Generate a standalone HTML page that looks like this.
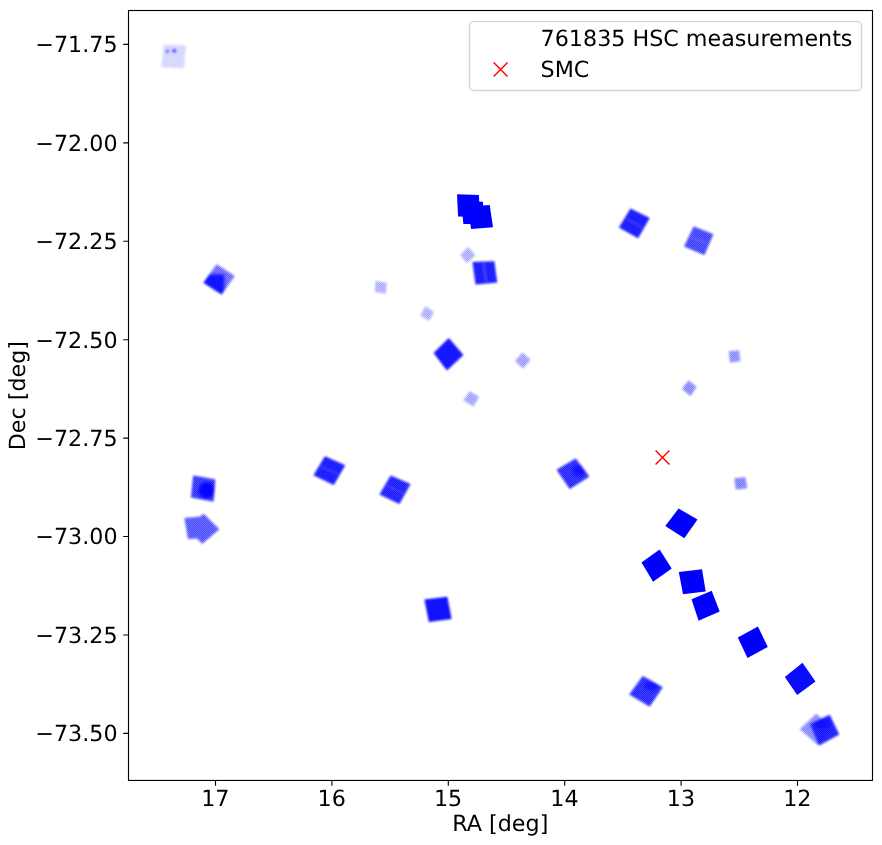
<!DOCTYPE html>
<html lang="en"><head><meta charset="utf-8"><title>HSC measurements</title>
<style>html,body{margin:0;padding:0;background:#fff}body{width:882px;height:845px;overflow:hidden}svg{display:block}text{text-rendering:geometricPrecision;font-family:"DejaVu Sans","Liberation Sans",sans-serif;font-size:22.22px;fill:#000}</style></head><body>
<svg width="882" height="845" viewBox="0 0 882 845">
<defs><filter id="soft" x="-20%" y="-20%" width="140%" height="140%"><feGaussianBlur stdDeviation="0.9"/></filter><filter id="soft2" x="-30%" y="-30%" width="160%" height="160%"><feGaussianBlur stdDeviation="1.2"/></filter><pattern id="tex" width="2" height="2" patternUnits="userSpaceOnUse"><rect width="1" height="1" fill="#fff"/><rect x="1" y="1" width="1" height="1" fill="#fff"/><rect x="1" width="1" height="1" fill="#00f"/><rect y="1" width="1" height="1" fill="#00f"/></pattern></defs>
<rect width="882" height="845" fill="#fff"/>
<defs><clipPath id="c0"><polygon points="216.6,264.2 234.7,275.9 221.6,294.4 203.5,282.7"/></clipPath><clipPath id="c1"><polygon points="193.2,475.6 215.3,479.5 213.5,501.4 191.0,497.6"/></clipPath><clipPath id="c2"><polygon points="575.7,458.6 589.3,476.5 569.7,488.9 556.6,469.7"/></clipPath><clipPath id="c3"><polygon points="642.8,676.0 662.7,687.3 649.7,706.6 629.3,694.4"/></clipPath><clipPath id="c4"><polygon points="810.1,724.1 829.7,714.8 839.2,734.5 819.0,745.4"/></clipPath></defs>
<g fill="#0000ff"><polygon points="457.0,194.2 478.9,194.9 480.0,217.1 458.1,216.4" opacity="1.00"/><polygon points="461.0,201.0 482.9,201.7 484.3,224.1 463.4,223.9" opacity="1.00"/><polygon points="467.8,206.5 489.7,204.9 493.0,227.2 471.1,228.9" opacity="1.00"/><polygon points="678.6,508.4 697.5,519.5 684.3,538.3 665.3,525.9" opacity="1.00"/><polygon points="659.6,549.5 671.7,568.4 653.1,581.7 641.5,562.5" opacity="1.00"/><polygon points="678.8,572.0 702.0,569.3 705.7,591.5 683.0,594.2" opacity="1.00"/><polygon points="691.5,599.2 711.7,590.7 719.7,611.6 698.6,620.7" opacity="1.00"/><polygon points="737.8,637.5 757.9,626.6 767.8,646.9 747.5,657.9" opacity="1.00"/><polygon points="784.8,676.9 802.5,662.7 815.5,681.6 797.2,695.0" opacity="0.96"/></g>
<g fill="#0000ff" filter="url(#soft)">
<polygon points="163.7,44.4 186.0,45.4 183.8,68.6 161.4,67.1" opacity="0.13"/>
<polygon points="216.6,264.2 234.7,275.9 221.6,294.4 203.5,282.7" opacity="0.55"/>
<polygon points="375.6,281.1 386.7,282.8 385.8,293.4 374.9,292.0" opacity="0.26"/>
<polygon points="425.3,306.2 433.8,311.9 429.3,321.1 420.4,315.7" opacity="0.26"/>
<polygon points="448.8,337.9 463.4,354.9 446.9,370.5 433.6,353.1" opacity="0.93"/>
<polygon points="468.2,247.0 475.2,255.3 466.9,263.2 460.3,254.9" opacity="0.27"/>
<polygon points="472.5,261.9 494.3,261.3 497.2,282.4 475.5,284.5" opacity="0.90"/>
<polygon points="522.4,352.4 530.6,359.8 523.1,368.6 515.0,361.0" opacity="0.32"/>
<polygon points="469.8,391.3 479.1,396.7 473.4,406.4 463.4,400.3" opacity="0.30"/>
<polygon points="630.5,208.4 649.7,218.1 638.1,238.2 618.9,227.6" opacity="0.90"/>
<polygon points="693.7,226.6 713.3,234.2 704.4,255.0 684.1,246.5" opacity="0.73"/>
<polygon points="728.9,351.3 739.2,350.6 740.2,361.2 729.9,362.4" opacity="0.40"/>
<polygon points="688.4,380.4 696.6,386.8 690.5,396.0 682.0,388.9" opacity="0.42"/>
<polygon points="734.4,478.3 745.4,477.2 747.2,488.3 735.9,489.4" opacity="0.45"/>
<polygon points="575.7,458.6 589.3,476.5 569.7,488.9 556.6,469.7" opacity="0.84"/>
<polygon points="324.9,456.3 345.2,465.2 333.8,485.1 313.5,475.2" opacity="0.90"/>
<polygon points="390.6,475.4 410.5,484.0 399.4,504.1 379.5,494.6" opacity="0.88"/>
<polygon points="193.2,475.6 215.3,479.5 213.5,501.4 191.0,497.6" opacity="0.80"/>
<g opacity="0.65"><polygon points="184.5,518.0 205.8,516.2 209.4,537.5 188.1,539.1"/><polygon points="203.5,513.8 219.2,529.2 202.3,543.8 187.5,528.6"/></g>
<polygon points="424.4,599.5 447.3,596.7 451.6,619.0 428.9,621.9" opacity="0.95"/>
<polygon points="642.8,676.0 662.7,687.3 649.7,706.6 629.3,694.4" opacity="0.84"/>
<polygon points="816.4,713.7 832.5,728.8 817.9,744.9 799.9,729.3" opacity="0.42"/>
<polygon points="810.1,724.1 829.7,714.8 839.2,734.5 819.0,745.4" opacity="0.88"/>
<g clip-path="url(#c0)"><rect x="198" y="274.2" width="26.4" height="28" opacity="0.85" filter="url(#soft2)"/></g>
<g clip-path="url(#c1)"><ellipse cx="206.6" cy="490.4" rx="8.4" ry="8.4" opacity="0.9" filter="url(#soft2)"/></g>
<g clip-path="url(#c2)"><ellipse cx="579.0" cy="470.4" rx="6.5" ry="6.0" opacity="0.6" filter="url(#soft2)"/></g>
<g clip-path="url(#c3)"><ellipse cx="651.5" cy="685.8" rx="7.0" ry="4.5" opacity="0.6" filter="url(#soft2)"/></g>
<g clip-path="url(#c4)"><ellipse cx="823.0" cy="723.5" rx="9.0" ry="5.5" opacity="0.5" filter="url(#soft2)"/></g>
<circle cx="167.5" cy="51.2" r="1.8" opacity="0.5"/><circle cx="174.3" cy="50.7" r="2.0" opacity="0.65"/>
</g>
<g stroke="#ffffff" stroke-width="1.1" filter="url(#soft)"><line x1="483.5" y1="262.9" x2="486.1" y2="282.2" stroke-opacity="0.35"/><line x1="642.7" y1="227.5" x2="625.9" y2="218.6" stroke-opacity="0.25"/><line x1="338.3" y1="474.6" x2="320.4" y2="466.3" stroke-opacity="0.25"/><line x1="403.8" y1="493.5" x2="386.3" y2="485.6" stroke-opacity="0.22"/><line x1="707.7" y1="244.1" x2="690.1" y2="237.0" stroke-opacity="0.20"/></g>
<mask id="tm" maskUnits="userSpaceOnUse" x="0" y="0" width="882" height="845"><g fill="#fff" filter="url(#soft)"><polygon points="163.7,44.4 186.0,45.4 183.8,68.6 161.4,67.1" opacity="0.44"/><polygon points="216.6,264.2 234.7,275.9 221.6,294.4 203.5,282.7" opacity="1.00"/><polygon points="375.6,281.1 386.7,282.8 385.8,293.4 374.9,292.0" opacity="0.72"/><polygon points="425.3,306.2 433.8,311.9 429.3,321.1 420.4,315.7" opacity="0.72"/><polygon points="448.8,337.9 463.4,354.9 446.9,370.5 433.6,353.1" opacity="0.35"/><polygon points="468.2,247.0 475.2,255.3 466.9,263.2 460.3,254.9" opacity="0.74"/><polygon points="472.5,261.9 494.3,261.3 497.2,282.4 475.5,284.5" opacity="0.50"/><polygon points="522.4,352.4 530.6,359.8 523.1,368.6 515.0,361.0" opacity="0.85"/><polygon points="469.8,391.3 479.1,396.7 473.4,406.4 463.4,400.3" opacity="0.81"/><polygon points="630.5,208.4 649.7,218.1 638.1,238.2 618.9,227.6" opacity="0.50"/><polygon points="693.7,226.6 713.3,234.2 704.4,255.0 684.1,246.5" opacity="1.00"/><polygon points="728.9,351.3 739.2,350.6 740.2,361.2 729.9,362.4" opacity="1.00"/><polygon points="688.4,380.4 696.6,386.8 690.5,396.0 682.0,388.9" opacity="1.00"/><polygon points="734.4,478.3 745.4,477.2 747.2,488.3 735.9,489.4" opacity="1.00"/><polygon points="575.7,458.6 589.3,476.5 569.7,488.9 556.6,469.7" opacity="0.80"/><polygon points="324.9,456.3 345.2,465.2 333.8,485.1 313.5,475.2" opacity="0.50"/><polygon points="390.6,475.4 410.5,484.0 399.4,504.1 379.5,494.6" opacity="0.60"/><polygon points="193.2,475.6 215.3,479.5 213.5,501.4 191.0,497.6" opacity="1.00"/><polygon points="184.5,518.0 205.8,516.2 209.4,537.5 188.1,539.1" opacity="1.00"/><polygon points="203.5,513.8 219.2,529.2 202.3,543.8 187.5,528.6" opacity="1.00"/><polygon points="424.4,599.5 447.3,596.7 451.6,619.0 428.9,621.9" opacity="0.30"/><polygon points="642.8,676.0 662.7,687.3 649.7,706.6 629.3,694.4" opacity="0.80"/><polygon points="816.4,713.7 832.5,728.8 817.9,744.9 799.9,729.3" opacity="1.00"/><polygon points="810.1,724.1 829.7,714.8 839.2,734.5 819.0,745.4" opacity="0.60"/></g><g fill="#000"><g clip-path="url(#c0)"><rect x="198" y="274.2" width="26.4" height="28" opacity="0.85" filter="url(#soft2)"/></g><g clip-path="url(#c1)"><ellipse cx="206.6" cy="490.4" rx="8.4" ry="8.4" opacity="0.9" filter="url(#soft2)"/></g><g clip-path="url(#c2)"><ellipse cx="579.0" cy="470.4" rx="6.5" ry="6.0" opacity="0.6" filter="url(#soft2)"/></g><g clip-path="url(#c3)"><ellipse cx="651.5" cy="685.8" rx="7.0" ry="4.5" opacity="0.6" filter="url(#soft2)"/></g><g clip-path="url(#c4)"><ellipse cx="823.0" cy="723.5" rx="9.0" ry="5.5" opacity="0.5" filter="url(#soft2)"/></g></g></mask>
<rect x="129" y="11" width="743" height="769" fill="url(#tex)" opacity="0.14" mask="url(#tm)"/>
<path d="M655.56 450.56L669.44 464.44M655.56 464.44L669.44 450.56" stroke="#ff0000" stroke-width="1.39" fill="none" stroke-linecap="butt"/>
<rect x="128.50" y="10.50" width="744.00" height="769.95" fill="none" stroke="#000" stroke-width="1.11" stroke-linejoin="miter"/>
<path d="M215.50 780.45v5.3M331.90 780.45v5.3M448.30 780.45v5.3M564.70 780.45v5.3M681.10 780.45v5.3M797.50 780.45v5.3M128.50 44.40h-5.3M128.50 142.83h-5.3M128.50 241.26h-5.3M128.50 339.69h-5.3M128.50 438.12h-5.3M128.50 536.55h-5.3M128.50 634.98h-5.3M128.50 733.41h-5.3" stroke="#000" stroke-width="1.11" fill="none"/>
<text x="215.30" y="806.1" text-anchor="middle">17</text>
<text x="331.70" y="806.1" text-anchor="middle">16</text>
<text x="448.10" y="806.1" text-anchor="middle">15</text>
<text x="564.50" y="806.1" text-anchor="middle">14</text>
<text x="680.90" y="806.1" text-anchor="middle">13</text>
<text x="797.30" y="806.1" text-anchor="middle">12</text>
<text x="117.6" y="52.30" text-anchor="end">−71.75</text>
<text x="117.6" y="150.73" text-anchor="end">−72.00</text>
<text x="117.6" y="249.16" text-anchor="end">−72.25</text>
<text x="117.6" y="347.59" text-anchor="end">−72.50</text>
<text x="117.6" y="446.02" text-anchor="end">−72.75</text>
<text x="117.6" y="544.45" text-anchor="end">−73.00</text>
<text x="117.6" y="642.88" text-anchor="end">−73.25</text>
<text x="117.6" y="741.31" text-anchor="end">−73.50</text>
<text x="500.3" y="831.2" text-anchor="middle">RA [deg]</text>
<text transform="translate(25.1 395.6) rotate(-90)" text-anchor="middle">Dec [deg]</text>
<rect x="469.5" y="21.6" width="392" height="68.9" rx="4" ry="4" fill="#fff" fill-opacity="0.8" stroke="#cccccc" stroke-opacity="0.8" stroke-width="1.39"/>
<path d="M493.66 62.56L507.54 76.44M493.66 76.44L507.54 62.56" stroke="#ff0000" stroke-width="1.39" fill="none" stroke-linecap="butt"/>
<text x="540.6" y="45.8">761835 HSC measurements</text>
<text x="540.6" y="76.8">SMC</text>
</svg></body></html>
